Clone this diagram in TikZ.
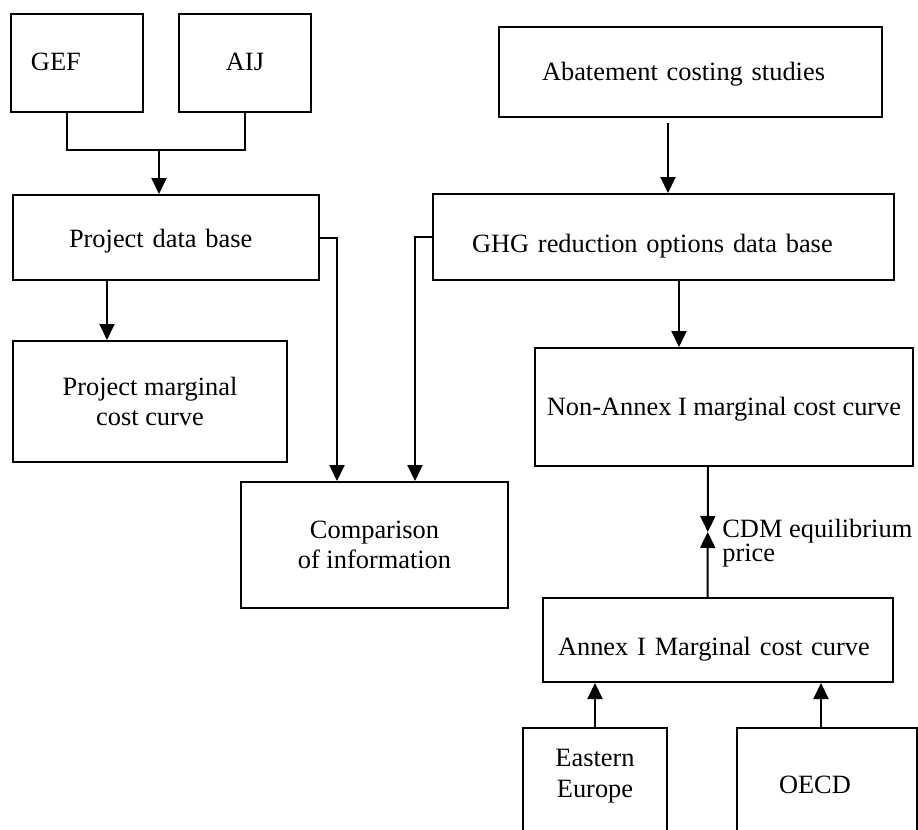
\documentclass[tikz,border=0pt]{standalone}
\usepackage{fontspec}
\setmainfont{Liberation Serif}
\usetikzlibrary{arrows.meta, calc}

\tikzset{
    box/.style = {draw, line width=1pt, inner sep=0pt, align=center},
    oneline/.style = {text height=#1, text depth=3pt},
    arr/.style = {-{Triangle[width=7.5pt, length=8pt]}, line width=1pt},
}

\begin{document}
\begin{tikzpicture}[x=0.5pt, y=-0.5pt, font=\fontsize{13.2}{15.2}\selectfont]
    \useasboundingbox (0,0) rectangle (918,830);

    % left column
    \node (gef) [box, oneline=10pt, text width=46pt, inner xsep=10pt, align=left, minimum height=49pt] at (77,63) {GEF};
    \node (aij) [box, oneline=10pt, minimum width=66pt, minimum height=49pt] at (245,63) {AIJ};
    \node (pdb) [box, oneline=13.5pt, text width=97pt, inner xsep=28pt, align=left, minimum height=42.5pt] at (166,237.5) {Project data base};
    \node (pmc) [box, minimum width=137pt, minimum height=60.5pt] at (150,401.5) {Project marginal\\cost curve};
    \node (cmp) [box, minimum width=133.5pt, minimum height=63pt] at (374.5,545) {Comparison\\of information};

    % right column
    \node (abs) [box, oneline=11pt, text width=148.5pt, inner xsep=21.5pt, align=left, minimum height=45pt] at (690.5,72) {Abatement costing studies};
    \node (ghg) [box, oneline=18pt, text width=191.5pt, inner xsep=19.5pt, align=left, minimum height=43pt] at (663.5,237) {GHG reduction options data base};
    \node (nai) [box, oneline=11pt, minimum width=189pt, minimum height=59pt] at (724,407) {Non-Annex I marginal cost curve};
    \node (ai) [box, oneline=18pt, text width=160pt, inner xsep=7.5pt, align=left, minimum height=42pt] at (718,640) {Annex I Marginal cost curve};
    \node (ee) [box, text height=24pt, text depth=13pt, minimum width=72pt, minimum height=58pt] at (595,786) {Eastern\\Europe};
    \node (oecd) [box, oneline=10pt, text width=48pt, inner xsep=21pt, align=left, minimum height=58pt] at (827,786) {OECD};

    \coordinate (join) at (159,150);
    \coordinate (cdm) at ($([xshift=-8pt]nai.south)!0.5!([xshift=-5.25pt]ai.north)$);
    \node (cdmtext) [anchor=west, align=left, inner sep=0pt] at ([xshift=7.1pt, yshift=-5.5pt]cdm) {CDM equilibrium\\[-3.5pt]price};

    \draw [line width=1pt] ([xshift=-5pt]gef.south) |- (join) -| (aij.south);
    \path [arr]
        (join) edge (join |- pdb.north)
        ([xshift=-29.5pt]pdb.south) edge ([xshift=-21.5pt]pmc.north)
        ([xshift=-11.25pt, yshift=-2.5pt]abs.south) edge ([xshift=2.25pt]ghg.north)
        ([xshift=7.75pt]ghg.south) edge ([xshift=-22.5pt]nai.north)
        ([xshift=-8pt]nai.south) edge (cdm)
        ([xshift=-5.25pt]ai.north) edge (cdm)
        (ee.north) edge (ee.north |- ai.south)
        ([xshift=-3pt]oecd.north) edge ([xshift=51.5pt]ai.south);
    \draw [arr] (pdb.east) -| ([xshift=-18.75pt]cmp.north);
    \draw [arr] (ghg.west) -| ([xshift=20.25pt]cmp.north);
\end{tikzpicture}
\end{document}
